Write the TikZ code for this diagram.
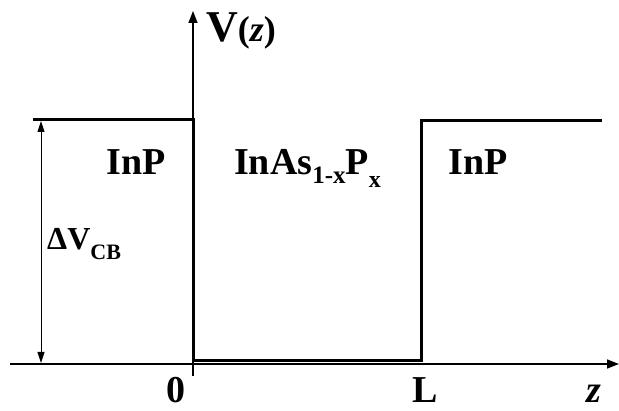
\documentclass[tikz,border=0pt]{standalone}
\usepackage{fontspec}
\setmainfont{Liberation Serif}
\usetikzlibrary{arrows.meta}
\begin{document}
\begin{tikzpicture}[x=1pt,y=-1pt,
  lbl/.style={inner sep=0pt, font=\fontsize{38}{40}\selectfont\bfseries},
  axis/.style={line width=1.5pt,-{Triangle[length=12pt,width=9pt]}},
  profile/.style={line width=3pt, line join=miter},
  dim/.style={line width=1pt,{Triangle[length=11pt,width=7pt]}-{Triangle[length=11pt,width=7pt]}}]
\useasboundingbox (0,0) rectangle (619,411);
% axes
\coordinate (xs) at (10,364);
\coordinate (xe) at (619,364);
\coordinate (ys) at (193,376);
\coordinate (ye) at (193,11);
\draw[axis] (xs) -- (xe);
\draw[axis] (ys) -- (ye);
% potential profile
\coordinate (a) at (33,120);
\coordinate (b) at (193,120);
\coordinate (c) at (193,361);
\coordinate (d) at (421,361);
\coordinate (e) at (421,121);
\coordinate (f) at (602,121);
\draw[profile] (a) -- (b) -- (c) -- (d) -- (e) -- (f);
% barrier height
\coordinate (t) at (41,121);
\coordinate (u) at (41,363);
\draw[dim] (t) -- (u);
% labels
\node[lbl, anchor=base] (inp1) at (136,175) {InP};
\node[lbl, anchor=base] (inp2) at (478,175) {InP};
\node[lbl, anchor=base west] (well) at (234,175)
  {InAs\raisebox{-9pt}{\fontsize{25}{25}\selectfont 1-x}P\raisebox{-13pt}{\fontsize{24}{24}\selectfont x}};
\node[lbl, anchor=base west, font=\fontsize{44}{46}\selectfont\bfseries] (vz) at (206,42)
  {V\fontsize{36}{36}\selectfont(\textit{z})};
\node[lbl, anchor=base west, font=\fontsize{32}{33}\selectfont\bfseries] (dv) at (47,250)
  {ΔV\raisebox{-10pt}{\fontsize{22}{22}\selectfont CB}};
\node[lbl, anchor=base, font=\fontsize{38}{40}\selectfont\bfseries] (zero) at (176,403) {0};
\node[lbl, anchor=base, font=\fontsize{38}{40}\selectfont\bfseries] (ell) at (425,403) {L};
\node[lbl, anchor=base, font=\fontsize{38}{40}\selectfont\bfseries] (zz) at (594,403) {\textit{z}};
\end{tikzpicture}
\end{document}
